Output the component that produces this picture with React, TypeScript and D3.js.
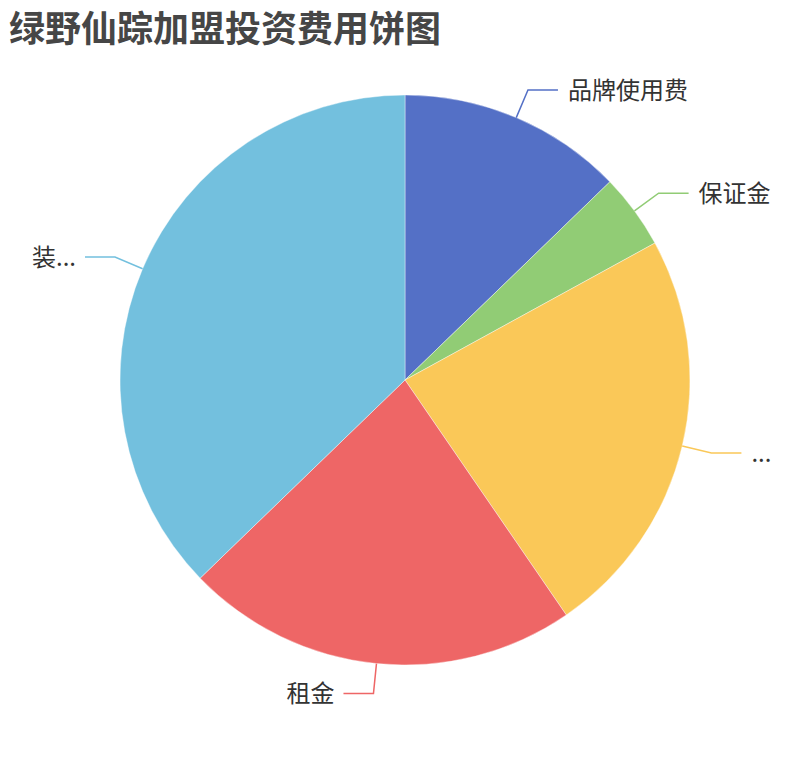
import React, { useEffect, useRef } from 'react'
import * as d3 from 'd3'

// slices in drawing order, clockwise from 12 o'clock
const labels = ['品牌使用费', '保证金', '...', '租金', '装...']
const values = [3, 1, 5.5, 5.25, 8.75]
const colors = ['#5470c6', '#91cc75', '#fac858', '#ee6666', '#73c0de']
const title = '绿野仙踪加盟投资费用饼图'

const App: React.FC = () => {
    const chartRef = useRef<SVGSVGElement | null>(null)

    useEffect(() => {
        if (!chartRef.current) return
        const width = 810
        const height = 760
        const cx = 405
        const cy = 380
        const radius = 285
        const len1 = 30
        const len2 = 30
        const font = '"Noto Sans CJK SC", "Noto Sans", sans-serif'

        const svg = d3.select(chartRef.current)
        svg.selectAll('*').remove()
        svg.attr('width', width).attr('height', height).attr('viewBox', `0 0 ${width} ${height}`)

        svg.append('text')
            .attr('x', 9)
            .attr('y', 8)
            .attr('dominant-baseline', 'hanging')
            .style('font-family', font)
            .style('font-size', '36px')
            .style('font-weight', 'bold')
            .style('fill', '#464646')
            .text(title)

        const data = labels.map((l, i) => ({ label: l, value: values[i], color: colors[i] }))
        const pie = d3.pie<typeof data[number]>().value(d => d.value).sort(null)
        const arcs = pie(data)

        const arc = d3.arc<d3.PieArcDatum<typeof data[number]>>()
            .innerRadius(0)
            .outerRadius(radius)

        const g = svg.append('g').attr('transform', `translate(${cx},${cy})`)

        g.selectAll('path.slice')
            .data(arcs)
            .enter()
            .append('path')
            .attr('class', 'slice')
            .attr('d', arc)
            .attr('fill', d => d.data.color)
            .attr('stroke', '#fff')
            .attr('stroke-width', 0.4)

        // label lines and labels
        arcs.forEach(d => {
            const mid = (d.startAngle + d.endAngle) / 2
            const p0 = d3.pointRadial(mid, radius)
            const p1 = d3.pointRadial(mid, radius + len1)
            const right = p1[0] >= 0
            const p2: [number, number] = [p1[0] + (right ? len2 : -len2), p1[1]]
            g.append('polyline')
                .attr('points', [p0, p1, p2].map(p => p.join(',')).join(' '))
                .attr('fill', 'none')
                .attr('stroke', d.data.color)
                .attr('stroke-width', 1.5)
            g.append('text')
                .attr('x', p2[0] + (right ? 10 : -9))
                .attr('y', p2[1] - 2)
                .attr('dominant-baseline', 'central')
                .attr('text-anchor', right ? 'start' : 'end')
                .style('font-family', font)
                .style('font-size', '24px')
                .style('fill', '#333')
                .text(d.data.label)
        })
    }, [])

    return (
        <svg
            ref={chartRef}
            style={{ position: 'absolute', left: 0, top: 0, background: '#fff' }}
        ></svg>
    )
}

export default App
